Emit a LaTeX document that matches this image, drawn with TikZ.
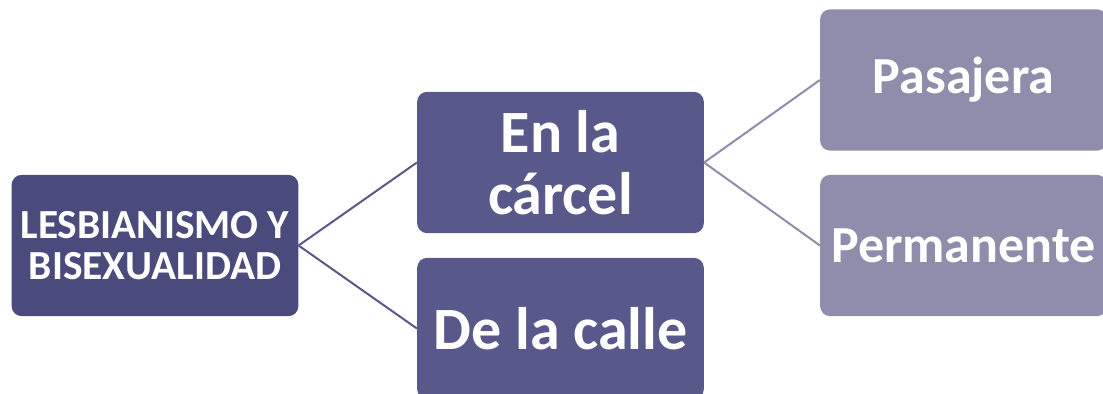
\documentclass[tikz,border=0pt]{standalone}
\usepackage{fontspec}
\setmainfont{Carlito}
\definecolor{rootcol}{HTML}{4A4A7C}
\definecolor{midcol}{HTML}{58588B}
\definecolor{leafcol}{HTML}{8E8DAB}
\begin{document}
\begin{tikzpicture}[x=0.75pt,y=-0.75pt,
		box/.style={rectangle,rounded corners=7.5pt,text=white,font=\bfseries,
			align=center,inner sep=0pt,minimum width=215pt,minimum height=106pt},
		rootbox/.style={box,fill=rootcol,font=\bfseries\fontsize{31}{31}\selectfont},
		midbox/.style={box,fill=midcol,font=\bfseries\fontsize{45}{46}\selectfont},
		leafbox/.style={box,fill=leafcol,font=\bfseries\fontsize{39}{40}\selectfont},
		link/.style={line width=1.5pt}]
	\useasboundingbox (0,0) rectangle (1103,393);
	\clip (0,0) rectangle (1103,393);
	
	% root
	\node[rootbox] at (155,245.5) (root){LESBIANISMO Y\\BISEXUALIDAD};
	
	% second level
	\node[midbox] at (560.5,162.5) (carcel){En la\\cárcel};
	\node[midbox] at (560.5,328.5) (calle){De la calle};
	
	% third level
	\node[leafbox] at (963.5,80) (pasajera){Pasajera};
	\node[leafbox] at (963.5,245.5) (permanente){Permanente};
	
	% links
	\draw[link,draw=midcol] (root.east) -- (carcel.west);
	\draw[link,draw=midcol] (root.east) -- (calle.west);
	\draw[link,draw=leafcol] (carcel.east) -- (pasajera.west);
	\draw[link,draw=leafcol] (carcel.east) -- (permanente.west);
\end{tikzpicture}
\end{document}
